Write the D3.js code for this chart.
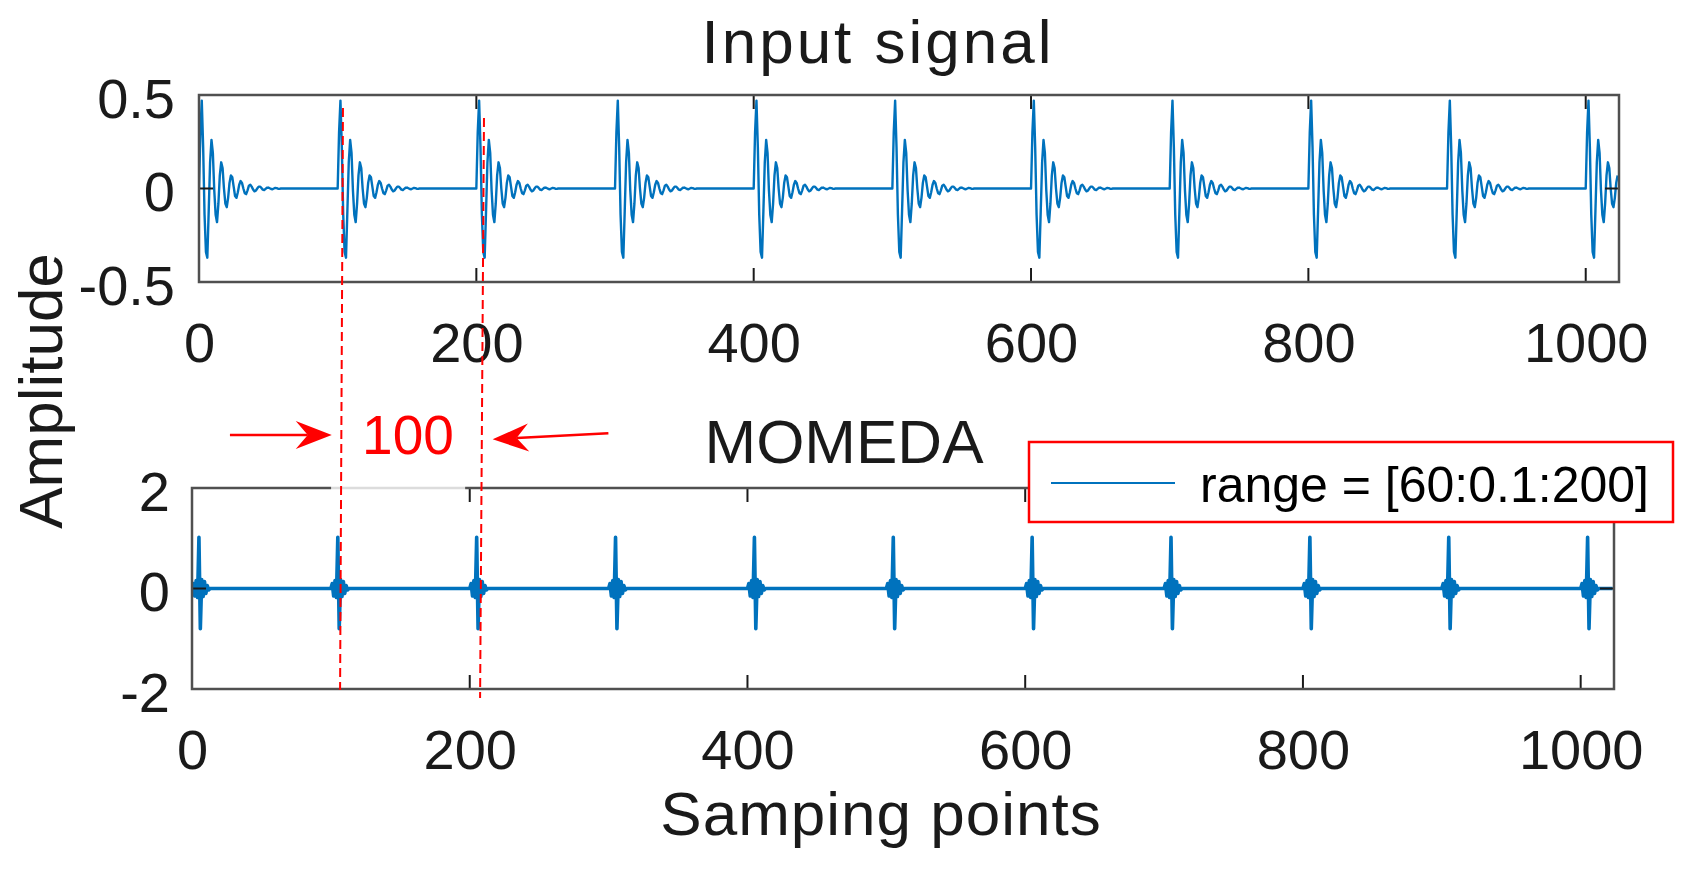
<!DOCTYPE html>
<html><head><meta charset="utf-8">
<script src="https://cdn.jsdelivr.net/npm/d3@7"></script>
<style>
body{margin:0;background:#fff}
text{font-family:"Liberation Sans",Arial,Helvetica,sans-serif}
</style>
</head><body>
<svg id="chart" width="1697" height="871"></svg>
<script>
// ---------------- data ----------------
const sampleCount = 1024;
const xDomain = [0, 1024];
const xTicks = [0, 200, 400, 600, 800, 1000];
const topYDomain = [-0.5, 0.5];
const topYTicks = [-0.5, 0, 0.5];
const botYDomain = [-2, 2];
const botYTicks = [-2, 0, 2];
const pulseOnsets = [0, 100, 200, 300, 400, 500, 600, 700, 800, 900, 1000];
// one impact response of the input signal, sample by sample after each onset
const inputPulse = [0, 0.30, 0.47, 0.22, -0.14, -0.34, -0.37, -0.12, 0.14, 0.26,
  0.19, -0.01, -0.14, -0.18, -0.08, 0.07, 0.14, 0.11, 0.00, -0.08,
  -0.10, -0.05, 0.03, 0.07, 0.06, 0.01, -0.04, -0.05, -0.02, 0.02,
  0.04, 0.03, 0.00, -0.025, -0.03, -0.01, 0.015, 0.02, 0.01, -0.005,
  -0.015, -0.012, 0.0, 0.01, 0.01, 0.003, -0.006, -0.008, -0.002, 0.004,
  0.005, 0.001, -0.003, -0.004, 0.0, 0.003, 0.002, -0.001, -0.002, 0];
// MOMEDA output around each onset
const momedaPulse = [0, 0.10, -0.15, 0.16, -0.18, 1.02, -0.80, 0.18, -0.16, 0.14, -0.10, 0.06, -0.03, 0];
const titleTop = "Input signal";
const titleBottom = "MOMEDA";
const xLabel = "Samping points";
const yLabel = "Amplitude";
const legendLabel = "range = [60:0.1:200]";
const periodLabel = "100";

function buildSeries(template) {
  const out = [];
  for (let n = 0; n < sampleCount; n++) {
    let v = 0;
    for (const o of pulseOnsets) {
      const k = n - o;
      if (k >= 0 && k < template.length) v += template[k];
    }
    out.push({x: n, y: v});
  }
  return out;
}
const inputSeries = buildSeries(inputPulse);
const momedaSeries = buildSeries(momedaPulse);

// ---------------- layout ----------------
const W = 1697, H = 871;
const svg = d3.select("#chart");
svg.append("rect").attr("width", W).attr("height", H).attr("fill", "#fff");
const LINE = "#0072BD", AX = "#505050", TK = "#1a1a1a", TXT = "#1a1a1a";
const tickFont = 56, labelFont = 62;
const fmt = d => String(d);

const panels = [
  {box: {l: 199, r: 1619, t: 95, b: 282}, yDomain: topYDomain, yTicks: topYTicks, data: inputSeries, sw: 2.4, title: titleTop, titleX: 878, titleY: 63, titleLS: 3, yLabAnchor: 175},
  {box: {l: 192, r: 1614, t: 488, b: 689}, yDomain: botYDomain, yTicks: botYTicks, data: momedaSeries, sw: 3.6, title: titleBottom, titleX: 844, titleY: 463, titleLS: 0, yLabAnchor: 170}
];

panels.forEach((p, i) => {
  const x = d3.scaleLinear().domain(xDomain).range([p.box.l, p.box.r]);
  const y = d3.scaleLinear().domain(p.yDomain).range([p.box.b, p.box.t]);
  const g = svg.append("g");
  const cid = "clip" + i;
  g.append("clipPath").attr("id", cid).append("rect")
    .attr("x", p.box.l).attr("y", p.box.t - 2).attr("width", p.box.r - p.box.l).attr("height", p.box.b - p.box.t + 4);
  // data line
  g.append("path").datum(p.data)
    .attr("clip-path", `url(#${cid})`)
    .attr("fill", "none").attr("stroke", LINE).attr("stroke-width", p.sw)
    .attr("stroke-linejoin", "round")
    .attr("d", d3.line().x(d => x(d.x)).y(d => y(d.y)));
  // ticks inside (top & bottom, left & right)
  const tl = 14;
  xTicks.forEach(t => {
    g.append("line").attr("x1", x(t)).attr("x2", x(t)).attr("y1", p.box.b).attr("y2", p.box.b - tl).attr("stroke", TK).attr("stroke-width", 2);
    g.append("line").attr("x1", x(t)).attr("x2", x(t)).attr("y1", p.box.t).attr("y2", p.box.t + tl).attr("stroke", TK).attr("stroke-width", 2);
  });
  p.yTicks.forEach(t => {
    g.append("line").attr("x1", p.box.l).attr("x2", p.box.l + tl).attr("y1", y(t)).attr("y2", y(t)).attr("stroke", TK).attr("stroke-width", 2);
    g.append("line").attr("x1", p.box.r).attr("x2", p.box.r - tl).attr("y1", y(t)).attr("y2", y(t)).attr("stroke", TK).attr("stroke-width", 2);
  });
  // box
  g.append("rect").attr("x", p.box.l).attr("y", p.box.t)
    .attr("width", p.box.r - p.box.l).attr("height", p.box.b - p.box.t)
    .attr("fill", "none").attr("stroke", AX).attr("stroke-width", 2.5);
  // tick labels via d3 axes (labels only)
  const xa = g.append("g").attr("transform", `translate(0,${p.box.b})`)
    .call(d3.axisBottom(x).tickValues(xTicks).tickSize(0).tickPadding(0).tickFormat(fmt));
  xa.select(".domain").remove();
  xa.selectAll("text").attr("font-size", tickFont).attr("fill", TXT)
    .attr("font-family", '"Liberation Sans",Arial,sans-serif').attr("dy", null).attr("y", 80);
  const ya = g.append("g").attr("transform", `translate(${p.yLabAnchor},0)`)
    .call(d3.axisLeft(y).tickValues(p.yTicks).tickSize(0).tickPadding(0).tickFormat(fmt));
  ya.select(".domain").remove();
  ya.selectAll("text").attr("font-size", tickFont).attr("fill", TXT)
    .attr("font-family", '"Liberation Sans",Arial,sans-serif').attr("dy", null).attr("y", 22).attr("x", 0);
  // title
  svg.append("text").attr("x", p.titleX).attr("y", p.titleY).attr("text-anchor", "middle")
    .attr("font-size", labelFont).attr("fill", TXT).attr("letter-spacing", p.titleLS).text(p.title);
});

// axis labels
svg.append("text").attr("x", 881).attr("y", 835).attr("text-anchor", "middle")
  .attr("font-size", labelFont).attr("fill", TXT).attr("letter-spacing", 1).text(xLabel);
svg.append("text").attr("transform", "translate(62,391) rotate(-90)").attr("text-anchor", "middle")
  .attr("font-size", labelFont).attr("fill", TXT).text(yLabel);

// ---------------- annotations (figure-normalized units, like MATLAB annotation) ----------------
const fx = v => v * W, fy = v => v * H;
const RED = "#FF0000";
// text box of "100" slightly whitens the bottom axes border
svg.append("rect").attr("x", fx(0.1951)).attr("y", fy(0.5580)).attr("width", fx(0.0790)).attr("height", 5)
  .attr("fill", "#fff").attr("opacity", 0.8);
const dashed = [
  [[0.2021, 0.1240], [0.2004, 0.7922]],
  [[0.2852, 0.1355], [0.2829, 0.8014]]
];
dashed.forEach(([a, b]) => {
  svg.append("line").attr("x1", fx(a[0])).attr("y1", fy(a[1])).attr("x2", fx(b[0])).attr("y2", fy(b[1]))
    .attr("stroke", RED).attr("stroke-width", 2).attr("stroke-dasharray", "9,5");
});
const arrows = [
  [[0.1355, 0.4994], [0.1955, 0.4994]],
  [[0.3585, 0.4975], [0.2903, 0.5044]]
];
arrows.forEach(([s, e]) => {
  const x1 = fx(s[0]), y1 = fy(s[1]), x2 = fx(e[0]), y2 = fy(e[1]);
  const ang = Math.atan2(y2 - y1, x2 - x1);
  const L = 36, hw = 14, notch = 24;
  const ux = Math.cos(ang), uy = Math.sin(ang), px = -uy, py = ux;
  svg.append("line").attr("x1", x1).attr("y1", y1).attr("x2", x2 - ux * notch).attr("y2", y2 - uy * notch)
    .attr("stroke", RED).attr("stroke-width", 2.5);
  const pts = [
    [x2, y2],
    [x2 - ux * L + px * hw, y2 - uy * L + py * hw],
    [x2 - ux * notch, y2 - uy * notch],
    [x2 - ux * L - px * hw, y2 - uy * L - py * hw]
  ];
  svg.append("path").attr("d", "M" + pts.map(p => p.join(",")).join("L") + "Z").attr("fill", RED);
});
svg.append("text").attr("x", fx(0.2404)).attr("y", fy(0.5212)).attr("text-anchor", "middle")
  .attr("font-size", 55).attr("fill", RED).text(periodLabel);

// ---------------- legend ----------------
const lg = svg.append("g");
lg.append("rect").attr("x", 1029).attr("y", 442).attr("width", 644).attr("height", 80)
  .attr("fill", "#fff").attr("stroke", RED).attr("stroke-width", 2.5);
lg.append("line").attr("x1", 1051).attr("x2", 1175).attr("y1", 483).attr("y2", 483)
  .attr("stroke", LINE).attr("stroke-width", 2);
lg.append("text").attr("x", 1200).attr("y", 502).attr("font-size", 50).attr("fill", "#000").text(legendLabel);
</script>
</body></html>
